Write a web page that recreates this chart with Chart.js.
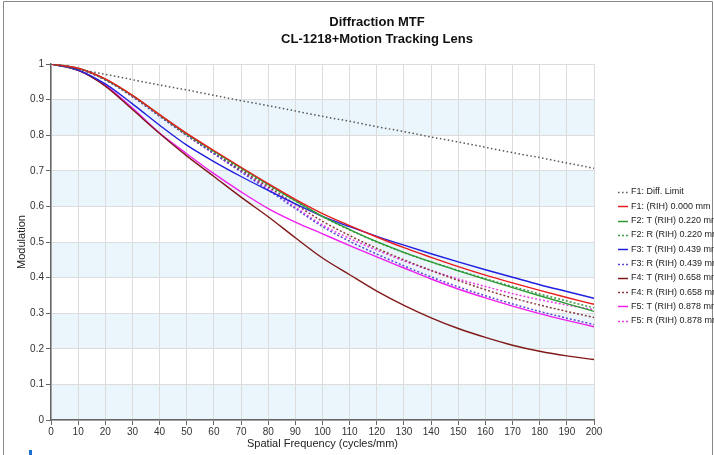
<!DOCTYPE html>
<html>
<head>
<meta charset="utf-8">
<title>Diffraction MTF</title>
<script src="https://cdn.jsdelivr.net/npm/chart.js@4.4.1/dist/chart.umd.min.js"></script>
<style>
  html, body { margin: 0; padding: 0; background: #fff; }
  #wrap { position: relative; width: 714px; height: 455px; overflow: hidden; }
</style>
</head>
<body>
<div id="wrap"><canvas id="mtf" width="714" height="455"></canvas></div>
<script>
// spatial frequency samples (cycles/mm)
const freqs = [0, 10, 20, 30, 40, 50, 60, 70, 80, 90, 100, 110, 120, 130, 140, 150, 160, 170, 180, 190, 200];

// modulation per field
const diffLimit = [1.000, 0.985, 0.971, 0.956, 0.941, 0.927, 0.912, 0.897, 0.883, 0.868, 0.853, 0.839, 0.824, 0.810, 0.795, 0.781, 0.766, 0.751, 0.737, 0.722, 0.707];
const f1Rih = [1, 0.988, 0.958, 0.912, 0.858, 0.805, 0.757, 0.710, 0.664, 0.620, 0.580, 0.546, 0.514, 0.484, 0.457, 0.431, 0.407, 0.385, 0.364, 0.344, 0.325];
const f2Tan = [1, 0.988, 0.957, 0.911, 0.857, 0.803, 0.755, 0.708, 0.662, 0.616, 0.572, 0.535, 0.501, 0.471, 0.444, 0.419, 0.395, 0.372, 0.349, 0.327, 0.305];
const f2Rad = [1, 0.988, 0.957, 0.911, 0.856, 0.802, 0.753, 0.706, 0.660, 0.615, 0.571, 0.534, 0.500, 0.470, 0.444, 0.420, 0.397, 0.375, 0.354, 0.334, 0.315];
const f3Tan = [1, 0.983, 0.944, 0.888, 0.828, 0.772, 0.726, 0.684, 0.645, 0.607, 0.572, 0.543, 0.516, 0.491, 0.467, 0.444, 0.422, 0.401, 0.380, 0.361, 0.342];
const f3Rad = [1, 0.987, 0.955, 0.908, 0.853, 0.800, 0.748, 0.697, 0.646, 0.594, 0.543, 0.502, 0.466, 0.433, 0.402, 0.374, 0.349, 0.326, 0.305, 0.286, 0.268];
const f4Tan = [1, 0.982, 0.938, 0.872, 0.805, 0.742, 0.684, 0.626, 0.571, 0.512, 0.455, 0.408, 0.362, 0.322, 0.287, 0.257, 0.232, 0.210, 0.193, 0.180, 0.170];
const f4Rad = [1, 0.987, 0.956, 0.910, 0.855, 0.800, 0.750, 0.702, 0.655, 0.606, 0.558, 0.518, 0.482, 0.450, 0.420, 0.392, 0.366, 0.343, 0.323, 0.305, 0.288];
const f5Tan = [1, 0.983, 0.940, 0.876, 0.806, 0.748, 0.692, 0.641, 0.594, 0.556, 0.523, 0.490, 0.458, 0.427, 0.396, 0.368, 0.343, 0.320, 0.299, 0.280, 0.262];
const f5Rad = [1, 0.987, 0.956, 0.909, 0.854, 0.799, 0.748, 0.699, 0.650, 0.598, 0.548, 0.510, 0.477, 0.447, 0.420, 0.396, 0.375, 0.355, 0.338, 0.323, 0.310];

const titleLines = ['Diffraction MTF', 'CL-1218+Motion Tracking Lens'];

const FONT = "'Liberation Sans', Arial, sans-serif";

function makeSet(label, values, color, dash) {
  return {
    label: label,
    data: freqs.map((f, i) => ({ x: f, y: values[i] })),
    borderColor: color,
    backgroundColor: color,
    borderWidth: dash ? 1.5 : 1.4,
    borderDash: dash || [],
    pointRadius: 0,
    cubicInterpolationMode: 'monotone',
    fill: false
  };
}

const datasets = [
  makeSet('F1: Diff. Limit', diffLimit, '#555555', [1.5, 2.5]),
  makeSet('F1: (RIH) 0.000 mm', f1Rih, '#e81c1c'),
  makeSet('F2: T (RIH) 0.220 mm', f2Tan, '#2e9a36'),
  makeSet('F2: R (RIH) 0.220 mm', f2Rad, '#3f9a4a', [2, 2]),
  makeSet('F3: T (RIH) 0.439 mm', f3Tan, '#1f1fe0'),
  makeSet('F3: R (RIH) 0.439 mm', f3Rad, '#5548d8', [2, 2]),
  makeSet('F4: T (RIH) 0.658 mm', f4Tan, '#801818'),
  makeSet('F4: R (RIH) 0.658 mm', f4Rad, '#8a3a3a', [2, 2]),
  makeSet('F5: T (RIH) 0.878 mm', f5Tan, '#f01ef0'),
  makeSet('F5: R (RIH) 0.878 mm', f5Rad, '#e83ce8', [2, 2])
];

// alternating light blue bands behind the grid
const bands = {
  id: 'bands',
  beforeDraw(chart) {
    const { ctx, chartArea: a, scales: { y } } = chart;
    ctx.save();
    ctx.fillStyle = '#fff';
    ctx.fillRect(0, 0, chart.width, chart.height);
    ctx.fillStyle = '#ebf5fc';
    for (let v = 0; v < 1; v += 0.2) {
      const top = y.getPixelForValue(v + 0.1);
      const bot = y.getPixelForValue(v);
      ctx.fillRect(a.left, top, a.right - a.left, bot - top);
    }
    ctx.restore();
  }
};

// title, frame and the legend on the right
const decor = {
  id: 'decor',
  afterDraw(chart) {
    const ctx = chart.ctx;
    ctx.save();
    ctx.strokeStyle = '#888';
    ctx.lineWidth = 1;
    ctx.beginPath();
    ctx.moveTo(3.5, 455);
    ctx.lineTo(3.5, 1.5);
    ctx.lineTo(712.5, 1.5);
    ctx.lineTo(712.5, 455);
    ctx.stroke();

    ctx.fillStyle = '#111';
    ctx.font = 'bold 13px ' + FONT;
    ctx.textAlign = 'center';
    ctx.textBaseline = 'middle';
    ctx.fillText(titleLines[0], 377, 22);
    ctx.fillText(titleLines[1], 377, 39);

    ctx.font = '9px ' + FONT;
    ctx.textAlign = 'left';
    chart.data.datasets.forEach((ds, i) => {
      const yy = 192 + i * 14.3;
      ctx.strokeStyle = ds.borderColor;
      ctx.lineWidth = 1.5;
      ctx.setLineDash(ds.borderDash);
      ctx.beginPath();
      ctx.moveTo(618, Math.round(yy) + 0.5);
      ctx.lineTo(628, Math.round(yy) + 0.5);
      ctx.stroke();
      ctx.setLineDash([]);
      ctx.fillStyle = '#222';
      ctx.fillText(ds.label, 631, yy);
    });

    ctx.fillStyle = '#1a6fd0';
    ctx.fillRect(29, 450, 3, 5);
    ctx.restore();
  }
};

new Chart(document.getElementById('mtf'), {
  type: 'line',
  data: { datasets: datasets },
  plugins: [bands, decor],
  options: {
    responsive: false,
    animation: false,
    devicePixelRatio: 1,
    layout: { padding: { left: 0, top: 64, right: 120, bottom: 0 } },
    plugins: {
      legend: { display: false },
      tooltip: { enabled: false }
    },
    scales: {
      x: {
        type: 'linear',
        min: 0,
        max: 200,
        ticks: { stepSize: 10, maxRotation: 0, padding: 1, color: '#333', font: { family: FONT, size: 10 } },
        grid: { color: '#dcdcdc', tickColor: '#666', tickLength: 5 },
        border: { color: '#666', width: 1.5 },
        title: { display: true, text: 'Spatial Frequency (cycles/mm)', color: '#222', font: { family: FONT, size: 11 }, padding: { top: 0, bottom: 4 } },
        afterFit: s => { s.height = 35; }
      },
      y: {
        min: 0,
        max: 1,
        ticks: {
          stepSize: 0.1,
          padding: 2,
          color: '#333',
          font: { family: FONT, size: 10 },
          callback: v => String(Math.round(v * 10) / 10)
        },
        grid: { color: '#dcdcdc', tickColor: '#666', tickLength: 5 },
        border: { color: '#666', width: 1.5 },
        title: { display: true, text: 'Modulation', color: '#222', font: { family: FONT, size: 11 }, padding: { top: 15, bottom: 0 } },
        afterFit: s => { s.width = 51; }
      }
    }
  }
});
</script>
</body>
</html>
